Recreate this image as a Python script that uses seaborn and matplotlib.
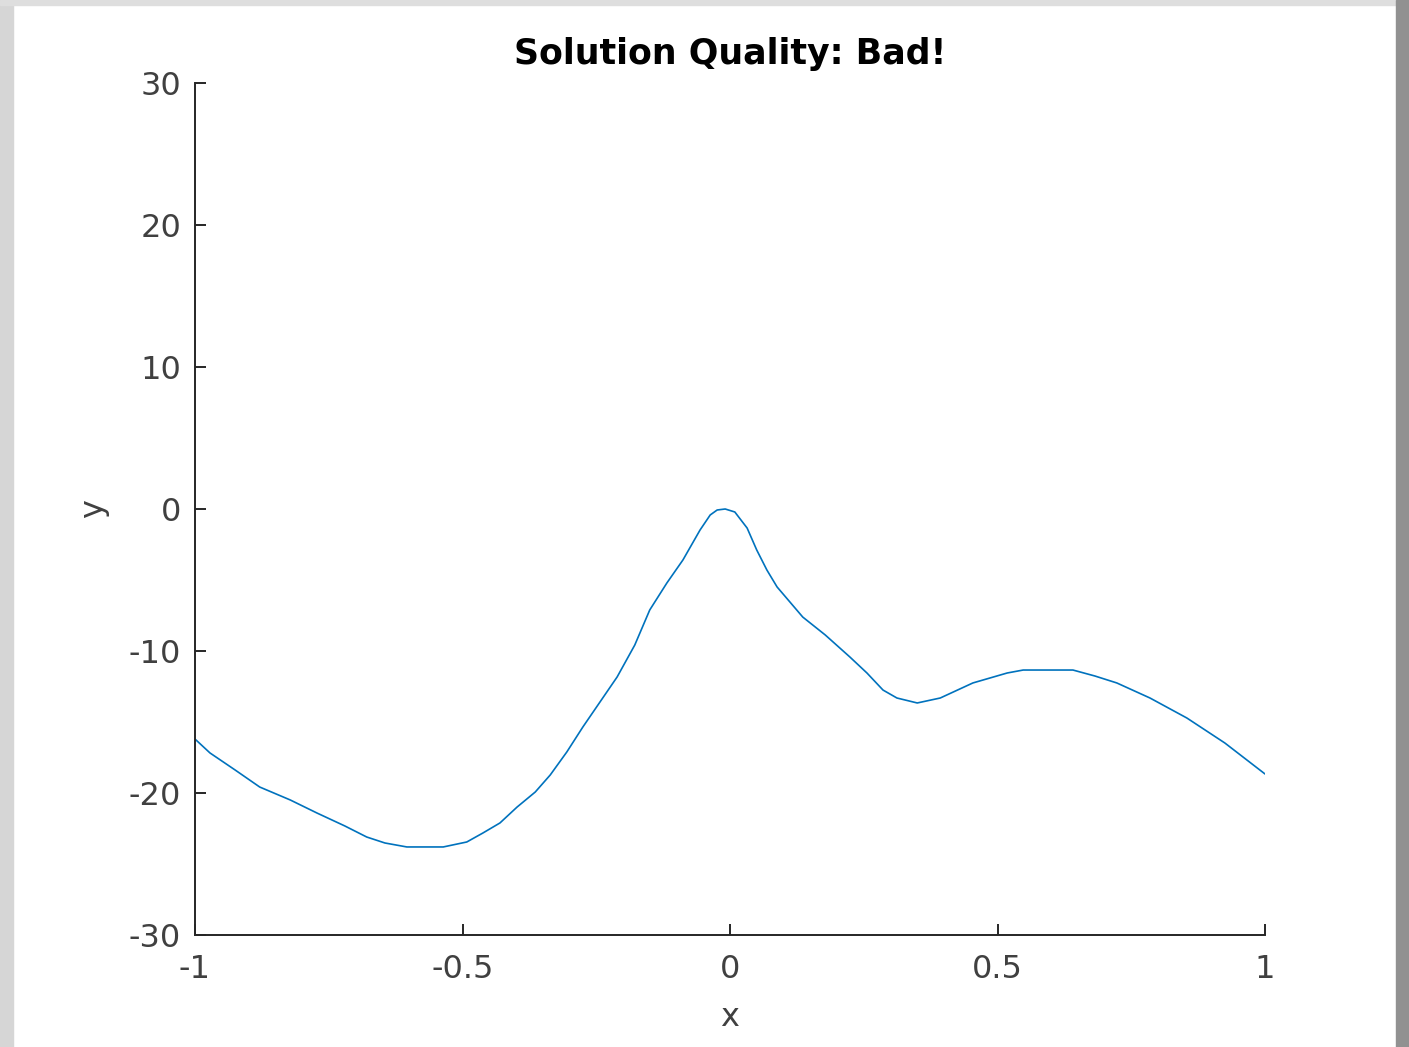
import matplotlib
matplotlib.use("Agg")
import matplotlib.pyplot as plt
import matplotlib.patches as mpatches
import seaborn as sns

# Values
x_vals = [-1.000, -0.972, -0.925, -0.879, -0.822, -0.772, -0.720, -0.679, -0.645,
          -0.604, -0.536, -0.492, -0.462, -0.430, -0.398, -0.364, -0.336, -0.305,
          -0.275, -0.243, -0.211, -0.178, -0.150, -0.118, -0.088, -0.056, -0.037,
          -0.024, -0.009, 0.009, 0.032, 0.050, 0.069, 0.088, 0.112, 0.136, 0.178,
          0.224, 0.256, 0.286, 0.312, 0.350, 0.393, 0.454, 0.518, 0.548, 0.598,
          0.641, 0.682, 0.723, 0.785, 0.854, 0.925, 1.000]
y_vals = [-16.20, -17.18, -18.38, -19.58, -20.49, -21.41, -22.32, -23.10, -23.52,
          -23.80, -23.80, -23.45, -22.82, -22.11, -20.99, -19.93, -18.73, -17.11,
          -15.35, -13.59, -11.83, -9.58, -7.11, -5.21, -3.59, -1.48, -0.42,
          -0.07, 0.00, -0.21, -1.34, -2.89, -4.30, -5.49, -6.55, -7.61, -8.87,
          -10.42, -11.55, -12.75, -13.31, -13.66, -13.31, -12.25, -11.55, -11.34, -11.34,
          -11.34, -11.76, -12.25, -13.31, -14.72, -16.48, -18.66]

x_ticks = [-1, -0.5, 0, 0.5, 1]
x_tick_labels = ['-1', '-0.5', '0', '0.5', '1']
y_ticks = [-30, -20, -10, 0, 10, 20, 30]
y_tick_labels = ['-30', '-20', '-10', '0', '10', '20', '30']

sns.set_style("ticks")
plt.rcParams['font.family'] = ['DejaVu Sans']
plt.rcParams['xtick.direction'] = 'in'
plt.rcParams['ytick.direction'] = 'in'

W, H = 1409, 1047
fig = plt.figure(figsize=(W / 100, H / 100), dpi=100)
fig.patch.set_facecolor('white')

# grey window frame around the white figure area
fig.patches.append(mpatches.Rectangle((0, 0), 13 / W, 1, transform=fig.transFigure,
                                      color='#d6d6d6', zorder=0))
fig.patches.append(mpatches.Rectangle((0, 1 - 5 / H), 1, 5 / H, transform=fig.transFigure,
                                      color='#dedede', zorder=0))
fig.patches.append(mpatches.Rectangle((1 - 13 / W, 0), 13 / W, 1, transform=fig.transFigure,
                                      color='#919191', zorder=0))

ax = fig.add_axes([195 / W, 112 / H, 1070 / W, 852 / H])
sns.lineplot(x=x_vals, y=y_vals, ax=ax, color='#0072BD', linewidth=1.2)

ax.set_xlim(-1, 1)
ax.set_ylim(-30, 30)
ax.set_xticks(x_ticks)
ax.set_xticklabels(x_tick_labels)
ax.set_yticks(y_ticks)
ax.set_yticklabels(y_tick_labels)

sns.despine(ax=ax)
for side in ['left', 'bottom']:
    ax.spines[side].set_color('#262626')
    ax.spines[side].set_linewidth(1.4)

ax.tick_params(axis='both', length=8, width=1.4, color='#262626',
               labelsize=23, labelcolor='#404040')
ax.tick_params(axis='x', pad=14)
ax.tick_params(axis='y', pad=10)

ax.set_xlabel('x', fontsize=23, color='#404040', labelpad=12)
ax.set_ylabel('y', fontsize=23, color='#404040', labelpad=14)
ax.set_title('Solution Quality: Bad!', fontsize=25, fontweight='bold', color='black', pad=14)

fig.savefig('out.png', dpi=100)
